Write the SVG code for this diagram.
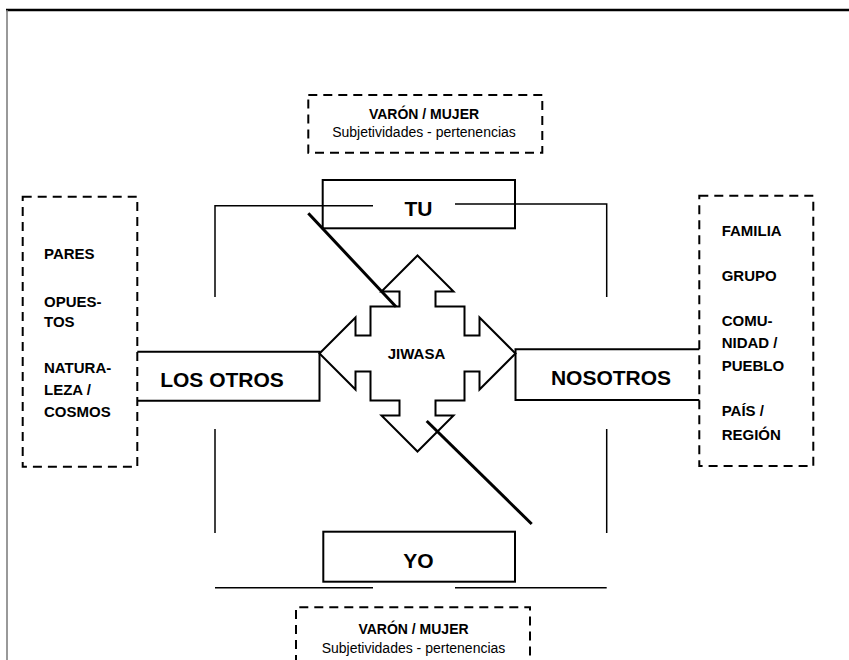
<svg xmlns="http://www.w3.org/2000/svg" width="849" height="660" viewBox="0 0 849 660">
<style>
.dash{fill:none;stroke:#000;stroke-width:2;stroke-dasharray:9 6}
.box{fill:none;stroke:#000;stroke-width:2}
.ln{fill:none;stroke:#000;stroke-width:1.5}
.diag{fill:none;stroke:#000;stroke-width:3}
.big{font-family:"Liberation Sans",Arial,sans-serif;font-weight:bold;font-size:21px;fill:#000;text-anchor:middle}
.item{font-family:"Liberation Sans",Arial,sans-serif;font-weight:bold;font-size:15px;fill:#000}
.nb{font-family:"Liberation Sans",Arial,sans-serif;font-weight:bold;font-size:14px;fill:#000;text-anchor:middle}
.nr{font-family:"Liberation Sans",Arial,sans-serif;font-size:14px;fill:#000;text-anchor:middle}
</style>
<rect width="849" height="660" fill="#fff"/>
<line x1="6" y1="10" x2="849" y2="10" stroke="#000" stroke-width="2.5"/>
<line x1="7" y1="10" x2="7" y2="660" stroke="#777" stroke-width="1.5"/>

<g id="connectors">
<path class="ln" d="M215,297 V205.7 H373"/>
<path class="ln" d="M455,204 H606.7 V297"/>
<path class="ln" d="M215,429 V533"/>
<path class="ln" d="M606.7,429 V533"/>
<path class="ln" d="M215,587.7 H373"/>
<path class="ln" d="M455,587.7 H606.7"/>
</g>

<g id="top-note">
<rect class="dash" x="308.3" y="95" width="234" height="57.7"/>
<text class="nb" x="424" y="119">VARÓN / MUJER</text>
<text class="nr" x="424" y="137">Subjetividades - pertenencias</text>
</g>

<g id="tu">
<rect class="box" x="322.7" y="180" width="192.3" height="48.3"/>
<text class="big" x="418.5" y="216">TU</text>
</g>

<g id="jiwasa">
<path class="box" fill="#fff" d="M319.5,353.5 L355.5,317.5 L355.5,335.5 L370.5,335.5 L370.5,306.5 L399.5,306.5 L399.5,291.5 L381.5,291.5 L417.5,255.5 L453.5,291.5 L435.5,291.5 L435.5,306.5 L464.5,306.5 L464.5,335.5 L479.5,335.5 L479.5,317.5 L515.5,353.5 L479.5,389.5 L479.5,371.5 L464.5,371.5 L464.5,400.5 L435.5,400.5 L435.5,415.5 L453.5,415.5 L417.5,451.5 L381.5,415.5 L399.5,415.5 L399.5,400.5 L370.5,400.5 L370.5,371.5 L355.5,371.5 L355.5,389.5 Z"/>
<text class="item" x="416.5" y="359.3" font-size="13" text-anchor="middle">JIWASA</text>
</g>

<g id="diagonals">
<line class="diag" x1="308.3" y1="213.3" x2="396" y2="306.7"/>
<line class="diag" x1="426.7" y1="421" x2="531.7" y2="524"/>
</g>

<g id="los-otros">
<path class="box" d="M137.3,351.7 H319.5 V400.7 H137.3"/>
<text class="big" x="222" y="387">LOS OTROS</text>
</g>

<g id="nosotros">
<path class="box" d="M699.3,349.3 H515.5 V400 H699.3"/>
<text class="big" x="611" y="385">NOSOTROS</text>
</g>

<g id="left-list">
<rect class="dash" x="22.7" y="196.7" width="114.6" height="270"/>
<text class="item" x="44" y="259.3">PARES</text>
<text class="item" x="44" y="306.7">OPUES-</text>
<text class="item" x="44" y="327.3">TOS</text>
<text class="item" x="44" y="373.3">NATURA-</text>
<text class="item" x="44" y="395">LEZA /</text>
<text class="item" x="44" y="416.7">COSMOS</text>
</g>

<g id="right-list">
<rect class="dash" x="699.3" y="195.7" width="114" height="270.3"/>
<text class="item" x="721.7" y="236">FAMILIA</text>
<text class="item" x="721.7" y="280.7">GRUPO</text>
<text class="item" x="721.7" y="325.7">COMU-</text>
<text class="item" x="721.7" y="348.3">NIDAD /</text>
<text class="item" x="721.7" y="371">PUEBLO</text>
<text class="item" x="721.7" y="416">PAÍS /</text>
<text class="item" x="721.7" y="440">REGIÓN</text>
</g>

<g id="yo">
<rect class="box" x="323.3" y="531.7" width="191.7" height="50"/>
<text class="big" x="418.5" y="567.5">YO</text>
</g>

<g id="bottom-note">
<path class="dash" d="M296,664 V607.3 H530 V664"/>
<text class="nb" x="413.5" y="634">VARÓN / MUJER</text>
<text class="nr" x="413.5" y="652.7">Subjetividades - pertenencias</text>
</g>
</svg>
